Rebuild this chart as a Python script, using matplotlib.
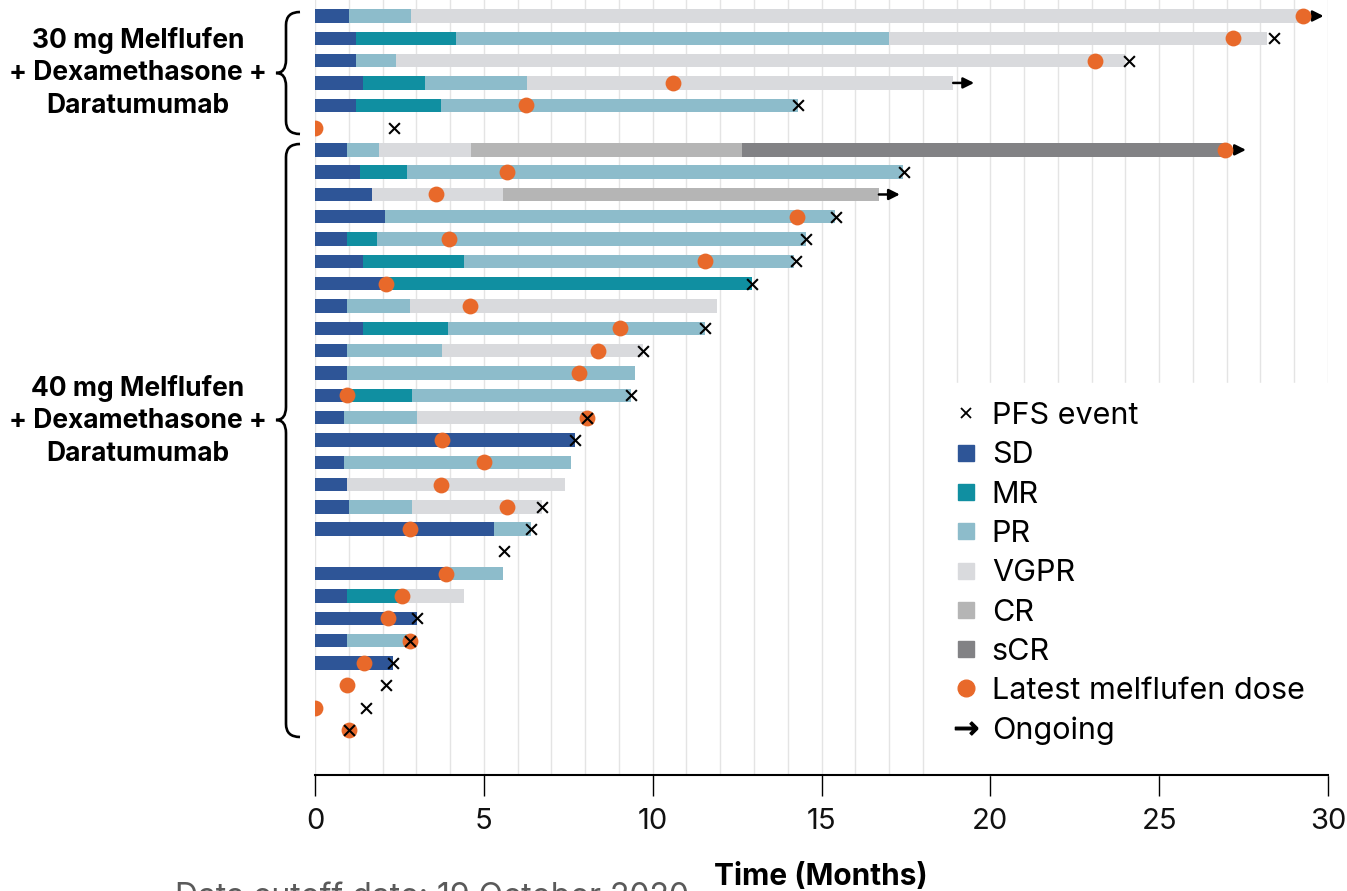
import numpy as np
import matplotlib.pyplot as plt
from matplotlib.lines import Line2D
from matplotlib.path import Path
from matplotlib.patches import PathPatch, Rectangle

plt.rcParams['font.family'] = ['Inter', 'DejaVu Sans']

# response category colours
colors = {'SD': '#2E5597', 'MR': '#108FA1', 'PR': '#8DBCCB',
          'VGPR': '#D9DADD', 'CR': '#B5B5B5', 'sCR': '#828285'}
dose_color = '#E8692A'

# 30 mg melflufen arm (top to bottom)
states_30 = [['SD', 'PR', 'VGPR'],
             ['SD', 'MR', 'PR', 'VGPR'],
             ['SD', 'PR', 'VGPR'],
             ['SD', 'MR', 'PR', 'VGPR'],
             ['SD', 'MR', 'PR'],
             []]
ends_30 = [[1.0, 2.85, 29.25],
           [1.2, 4.17, 17.0, 28.2],
           [1.2, 2.4, 24.0],
           [1.42, 3.26, 6.28, 18.9],
           [1.2, 3.73, 14.3],
           []]
dose_30 = [29.25, 27.2, 23.1, 10.6, 6.25, 0.0]
pfs_30 = [None, 28.4, 24.1, None, 14.3, 2.33]
ongoing_30 = [True, False, False, True, False, False]

# 40 mg melflufen arm (top to bottom)
states_40 = [['SD', 'PR', 'VGPR', 'CR', 'sCR'],
             ['SD', 'MR', 'PR'],
             ['SD', 'VGPR', 'CR'],
             ['SD', 'PR'],
             ['SD', 'MR', 'PR'],
             ['SD', 'MR', 'PR'],
             ['SD', 'MR'],
             ['SD', 'PR', 'VGPR'],
             ['SD', 'MR', 'PR'],
             ['SD', 'PR', 'VGPR'],
             ['SD', 'PR'],
             ['SD', 'MR', 'PR'],
             ['SD', 'PR', 'VGPR'],
             ['SD'],
             ['SD', 'PR'],
             ['SD', 'VGPR'],
             ['SD', 'PR', 'VGPR'],
             ['SD', 'PR'],
             [],
             ['SD', 'PR'],
             ['SD', 'MR', 'VGPR'],
             ['SD'],
             ['SD', 'PR'],
             ['SD'],
             [],
             [],
             []]
ends_40 = [[0.95, 1.9, 4.62, 12.64, 26.95],
           [1.33, 2.72, 17.4],
           [1.69, 5.57, 16.7],
           [2.07, 15.4],
           [0.95, 1.84, 14.54],
           [1.42, 4.41, 14.2],
           [2.1, 12.94],
           [0.95, 2.81, 11.9],
           [1.42, 3.94, 11.55],
           [0.95, 3.76, 9.72],
           [0.95, 9.48],
           [0.95, 2.87, 9.36],
           [0.87, 3.01, 8.09],
           [7.7],
           [0.87, 7.58],
           [0.95, 7.4],
           [1.02, 2.88, 6.72],
           [5.3, 6.4],
           [],
           [3.9, 5.57],
           [0.95, 2.57, 4.41],
           [3.03],
           [0.95, 2.81],
           [2.3],
           [],
           [],
           []]
dose_40 = [26.95, 5.7, 3.57, 14.27, 3.97, 11.55, 2.1, 4.59, 9.03, 8.38, 7.82,
           0.95, 8.06, 3.77, 5.0, 3.74, 5.68, 2.81, None, 3.88, 2.57, 2.15,
           2.81, 1.45, 0.95, 0.0, 1.0]
pfs_40 = [None, 17.45, None, 15.43, 14.54, 14.24, 12.94, None, 11.55, 9.72,
          None, 9.36, 8.06, 7.7, None, None, 6.72, 6.4, 5.6, None, None, 3.03,
          2.81, 2.3, 2.1, 1.51, 1.0]
ongoing_40 = [True, False, True] + [False] * 24

states = states_30 + states_40
ends = ends_30 + ends_40
dose = dose_30 + dose_40
pfs = pfs_30 + pfs_40
ongoing = ongoing_30 + ongoing_40

W, H = 1347, 891
fig = plt.figure(figsize=(W / 100, H / 100), dpi=100)
row_px = 22.31
top_row_px = 16
ax = fig.add_axes([315 / W, 1 - 775 / H, 1013 / W, 775 / H])

# bars
for i, (st, en) in enumerate(zip(states, ends)):
    left = 0
    for s, e in zip(st, en):
        ax.barh(i, e - left, left=left, height=0.6, color=colors[s], zorder=2)
        left = e
    if ongoing[i]:
        ax.annotate('', xy=(left + 0.62, i), xytext=(left, i),
                    arrowprops=dict(arrowstyle='-|>', color='black', lw=1.8,
                                    mutation_scale=16, shrinkA=0, shrinkB=0),
                    zorder=3)

dy = [i for i, d in enumerate(dose) if d is not None]
dx = [d for d in dose if d is not None]
ax.scatter(dx, dy, s=130, color=dose_color, zorder=4, linewidths=0)
py = [i for i, p in enumerate(pfs) if p is not None]
px = [p for p in pfs if p is not None]
ax.scatter(px, py, s=60, marker='x', color='black', linewidths=1.5, zorder=5)

ax.set_xlim(0, 30)
ax.set_ylim((775 - top_row_px) / row_px, -top_row_px / row_px)
ax.set_xticks(range(0, 31, 5))
ax.set_xticks(range(31), minor=True)
ax.grid(axis='x', which='both', color='#E4E4E4', lw=1)
ax.set_axisbelow(True)
ax.set_yticks([])
for s in ['top', 'right', 'left']:
    ax.spines[s].set_visible(False)
ax.spines['bottom'].set_linewidth(1.5)
ax.tick_params(axis='x', which='major', length=15, width=1, pad=9,
               labelsize=21, labelcolor='#111111')
ax.tick_params(axis='x', which='minor', length=0)

# white area behind legend
ax.add_patch(Rectangle((0.612, 0), 0.39, (775 - 383) / 775,
                       transform=ax.transAxes, color='white', zorder=1.5,
                       clip_on=False))

handles = [Line2D([], [], ls='none', marker='x', color='black', ms=7, mew=1.3)]
labels = ['PFS event']
for k in ['SD', 'MR', 'PR', 'VGPR', 'CR', 'sCR']:
    handles.append(Line2D([], [], ls='none', marker='s', color=colors[k], ms=12))
    labels.append(k)
handles.append(Line2D([], [], ls='none', marker='o', color=dose_color, ms=12))
labels.append('Latest melflufen dose')
handles.append(Line2D([], [], ls='none', marker=r'$\rightarrow$', color='black', ms=16))
labels.append('Ongoing')
fig.legend(handles, labels, loc='upper left',
           bbox_to_anchor=(952 / W, 1 - 402 / H), frameon=False,
           fontsize=22, handlelength=0.9, handletextpad=0.4,
           labelspacing=0.37, borderaxespad=0, borderpad=0)

# overlay for braces and group labels in pixel units
ov = fig.add_axes([0, 0, 1, 1])
ov.set_xlim(0, W)
ov.set_ylim(H, 0)
ov.axis('off')


def brace(y_top, y_tip, y_bot, x_end=300, x_mid=286, x_tip=276, r=13):
    verts = [(x_end, y_top), (x_mid, y_top), (x_mid, y_top + r),
             (x_mid, y_tip - r), (x_mid, y_tip), (x_tip, y_tip),
             (x_mid, y_tip), (x_mid, y_tip + r),
             (x_mid, y_bot - r), (x_mid, y_bot), (x_end, y_bot)]
    codes = [Path.MOVETO, Path.CURVE3, Path.CURVE3,
             Path.LINETO, Path.CURVE3, Path.CURVE3,
             Path.CURVE3, Path.CURVE3,
             Path.LINETO, Path.CURVE3, Path.CURVE3]
    ov.add_patch(PathPatch(Path(verts, codes), fill=False, lw=1.9,
                           edgecolor='black', capstyle='butt'))


brace(12, 73, 134)
brace(144, 420, 737)

group_text = 'mg Melflufen\n+ Dexamethasone +\nDaratumumab'
ov.text(138, 73, '30 ' + group_text, ha='center', va='center', fontsize=19,
        fontweight='bold', linespacing=1.33)
ov.text(138, 421, '40 ' + group_text, ha='center', va='center', fontsize=19,
        fontweight='bold', linespacing=1.33)

ov.text(821, 877, 'Time (Months)', ha='center', va='center', fontsize=21.5,
        fontweight='bold')
ov.text(175, 882, 'Data cutoff date: 19 October 2020', ha='left', va='top',
        fontsize=23, color='#5A5A5A')

fig.savefig('out.png', dpi=100)
